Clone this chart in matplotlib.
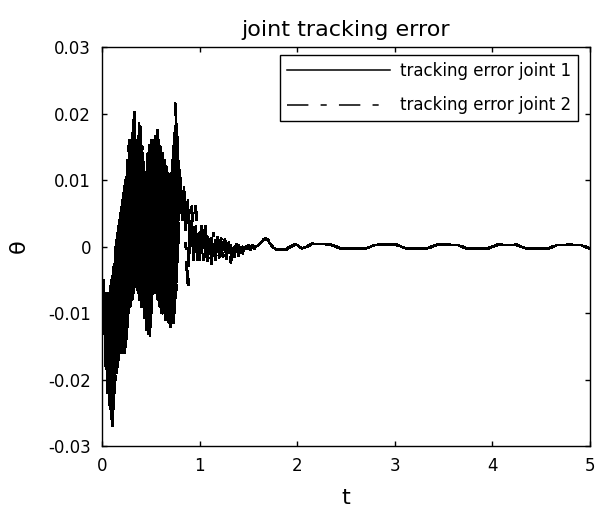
import matplotlib
matplotlib.use("Agg")
import matplotlib.pyplot as plt
import numpy as np

plt.rcParams['axes.unicode_minus'] = False

# datos leidos de la figura
# zona densa 0 - 0.79 s, paso 0.01
t_denso = np.arange(0, 0.80, 0.01)
e1_denso = [-0.003, -0.012, -0.005, -0.015, -0.007, -0.020, -0.008, -0.023, -0.007, -0.025,
            -0.005, -0.027, -0.003, -0.022, 0.000, -0.019, 0.002, -0.017, 0.004, -0.016,
            0.006, -0.016, 0.008, -0.016, 0.010, -0.014, 0.013, -0.010, 0.016, -0.009,
            0.016, -0.008, 0.019, -0.006, 0.017, -0.006, 0.016, -0.007, 0.0185, -0.008,
            0.016, -0.009, 0.014, -0.010, 0.011, -0.012, 0.012, -0.013, 0.015, -0.0135,
            0.016, -0.010, 0.016, -0.007, 0.016, -0.007, 0.016, -0.008, 0.016, -0.009,
            0.015, -0.010, 0.014, -0.010, 0.013, -0.011, 0.012, -0.011, 0.011, -0.0115,
            0.010, -0.0115, 0.013, -0.0115, 0.017, -0.009, 0.020, -0.004, 0.014, 0.004]
e2_denso = [-0.011, -0.004, -0.013, -0.006, -0.018, -0.008, -0.022, -0.007, -0.024, -0.006,
            -0.026, -0.004, -0.025, -0.002, -0.020, 0.001, -0.018, 0.003, -0.017, 0.005,
            -0.016, 0.007, -0.016, 0.009, -0.015, 0.011, -0.012, 0.015, -0.009, 0.016,
            -0.008, 0.017, -0.007, 0.021, -0.006, 0.016, -0.007, 0.017, -0.008, 0.018,
            -0.009, 0.015, -0.010, 0.013, -0.011, 0.010, -0.013, 0.014, -0.0135, 0.016,
            -0.012, 0.016, -0.008, 0.016, -0.007, 0.017, -0.007, 0.018, -0.008, 0.015,
            -0.009, 0.014, -0.010, 0.013, -0.0105, 0.012, -0.011, 0.011, -0.0115, 0.010,
            -0.012, 0.011, -0.011, 0.015, -0.010, 0.0215, -0.007, 0.017, 0.000, 0.012]

# oscilacion amortiguada 0.80 - 1.98 s, paso 0.02
t_cola = np.arange(0.80, 1.99, 0.02)
e1_cola = [0.011, 0.004, 0.009, 0.003, 0.007, -0.001, 0.004, -0.002, 0.003, -0.002,
           0.002, -0.001, 0.002, -0.0015, 0.0015, -0.001, 0.0012, -0.0012, 0.001, -0.0008,
           0.0008, -0.001, 0.0006, -0.0008, 0.0004, -0.001, 0.0002, -0.0012, 0.0, -0.0008,
           0.0002, -0.0006, 0.0, -0.0004, 0.0001, -0.0002, 0.0, -0.0001, 0.0001, 0.0,
           0.0002, 0.0005, 0.0008, 0.0010, 0.0011, 0.0009, 0.0005, 0.0001, -0.0002, -0.0004,
           -0.0005, -0.0005, -0.0004, -0.0005, -0.0004, -0.0003, -0.0001, 0.0001, 0.0002, 0.0003]
e2_cola = [0.010, 0.005, 0.008, 0.000, -0.0066, 0.004, 0.006, -0.002, 0.006, 0.001,
           -0.002, 0.004, -0.002, 0.003, -0.0025, 0.002, -0.0026, 0.002, -0.002, 0.0015,
           -0.0016, 0.0012, -0.0015, 0.001, -0.002, 0.0006, -0.0024, 0.0005, -0.0015, 0.0005,
           -0.0014, 0.0004, -0.001, 0.0003, -0.0008, 0.0002, -0.0005, 0.0002, -0.0003, 0.0001,
           -0.0002, 0.0004, 0.0008, 0.0011, 0.0012, 0.0010, 0.0006, 0.0002, -0.0002, -0.0004,
           -0.0005, -0.0004, -0.0005, -0.0004, -0.0005, -0.0003, -0.0001, 0.0000, 0.0002, 0.0003]

# regimen permanente 2 - 5 s
t_final = [2.00, 2.05, 2.10, 2.15, 2.25, 2.35, 2.45, 2.70, 2.80, 3.02, 3.12, 3.33,
           3.43, 3.64, 3.74, 3.95, 4.05, 4.25, 4.35, 4.57, 4.67, 4.90, 5.00]
e_final = [0.0002, -0.0003, 0.0000, 0.0004, 0.0004, 0.00025, -0.0003, -0.0003, 0.00025, 0.00025,
           -0.0003, -0.0003, 0.00025, 0.00025, -0.0003, -0.0003, 0.00025, 0.00025, -0.0003,
           -0.0003, 0.00025, 0.00025, -0.0003]

t = np.concatenate([t_denso, t_cola, t_final])
error1 = np.concatenate([e1_denso, e1_cola, e_final])
error2 = np.concatenate([e2_denso, e2_cola, e_final])

yticks = [-0.03, -0.02, -0.01, 0, 0.01, 0.02, 0.03]
yetiquetas = ["-0.03", "-0.02", "-0.01", "0", "0.01", "0.02", "0.03"]

fig = plt.figure(figsize=(6.05, 5.08), dpi=100)
ax = fig.add_axes([0.1686, 0.122, 0.8066, 0.7854])

ax.plot(t, error1, color='black', lw=1.1, antialiased=False, label="tracking error joint 1")
ax.plot(t, error2, color='black', lw=1.1, antialiased=False, linestyle=(0, (14, 8, 4, 8)),
        label="tracking error joint 2")

ax.set_xlim(0, 5)
ax.set_ylim(-0.03, 0.03)
ax.set_yticks(yticks)
ax.set_yticklabels(yetiquetas)
ax.set_xticks([0, 1, 2, 3, 4, 5])
ax.tick_params(direction='in', length=3.5, width=1, top=True, right=True,
               labelsize=12, pad=8)
for s in ax.spines.values():
    s.set_linewidth(1.0)

ax.set_title("joint tracking error", fontsize=16, pad=8)
ax.set_xlabel("t", fontsize=16, labelpad=9)
ax.set_ylabel("θ", fontsize=16, labelpad=14)

leg = ax.legend(loc='upper right', bbox_to_anchor=(0.9754, 0.98), borderaxespad=0,
                fontsize=12, handlelength=6.2, handletextpad=0.6, labelspacing=1.0,
                fancybox=False, framealpha=1, edgecolor='black')
leg.get_frame().set_linewidth(1.0)

plt.savefig("out.png", dpi=100)
